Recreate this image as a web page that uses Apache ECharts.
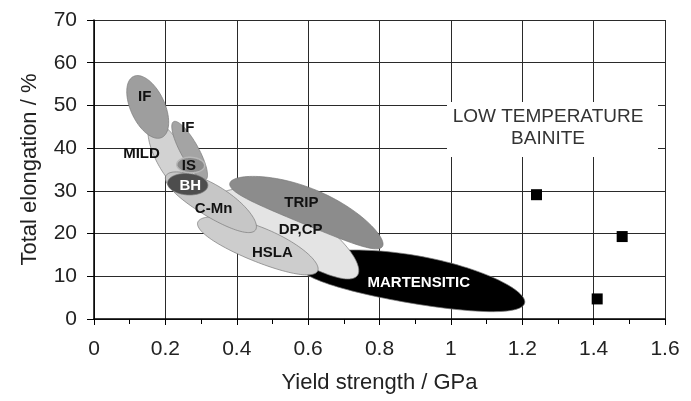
<!DOCTYPE html>
<html>
<head>
<meta charset="utf-8">
<script src="https://cdn.jsdelivr.net/npm/echarts@6/dist/echarts.min.js"></script>
<style>
  html, body { margin: 0; padding: 0; background: #fff; }
  #chart { width: 691px; height: 401px; }
</style>
</head>
<body>
<div id="chart"></div>
<script>
// steel grade regions: ends of the long axis [yield GPa, elongation %],
// half width and upward bow (both in % elongation)
let regionNames = ['MARTENSITIC', 'DP,CP', 'TRIP', 'HSLA', 'MILD', 'IF top', 'IF', 'C-Mn', 'BH', 'IS']
let regionStart = [[0.572, 12.9], [0.358, 29.1], [0.381, 31.9], [0.291, 22.7], [0.162, 46.0],
                   [0.111, 56.8], [0.223, 46.2], [0.202, 33.6], [0.206, 31.9], [0.232, 36.2]]
let regionEnd = [[1.207, 3.8], [0.739, 10.3], [0.809, 17.1], [0.627, 11.3], [0.270, 29.5],
                 [0.190, 42.5], [0.313, 32.6], [0.453, 20.9], [0.319, 31.2], [0.310, 35.9]]
let regionHalfWidth = [5.6, 5.4, 4.2, 4.0, 3.4, 4.0, 2.1, 3.7, 2.5, 1.8]
let regionBend = [1.0, 1.0, 1.9, 0.5, 0, 0, 0, 0.5, 0, 0]

// region labels
let labelNames = ['IF', 'IF', 'MILD', 'IS', 'BH', 'C-Mn', 'TRIP', 'DP,CP', 'HSLA', 'MARTENSITIC']
let labelPoints = [[0.142, 51.9], [0.263, 44.8], [0.133, 38.6], [0.266, 35.9], [0.270, 31.1],
                   [0.335, 25.9], [0.581, 27.2], [0.579, 20.9], [0.500, 15.6], [0.910, 8.5]]

// low temperature bainite
let bainiteYield = [1.24, 1.48, 1.41]
let bainiteElong = [29.1, 19.3, 4.7]

let xTicks = { min: 0, max: 1.6, step: 0.2 }
let yTicks = { min: 0, max: 70, step: 10 }

let fills = {
    'MARTENSITIC': '#000000', 'DP,CP': '#e4e4e4', 'TRIP': '#8c8c8c', 'HSLA': '#cdcdcd',
    'IF top': '#9e9e9e', 'MILD': '#d2d2d2', 'IF': '#a4a4a4', 'C-Mn': '#c6c6c6',
    'BH': '#4d4d4d', 'IS': '#8a8a8a'
}
let whiteLabels = ['BH', 'MARTENSITIC']

let font = '"Liberation Sans", Arial, sans-serif'

function ellipseItem(params, api) {
    let i = params.dataIndex
    let p1 = api.coord(regionStart[i])
    let p2 = api.coord(regionEnd[i])
    let cx = (p1[0] + p2[0]) / 2
    let cy = (p1[1] + p2[1]) / 2
    let a = Math.hypot(p2[0] - p1[0], p2[1] - p1[1]) / 2
    let b = api.size([0, regionHalfWidth[i]])[1]
    let bend = api.size([0, regionBend[i]])[1]
    let ang = Math.atan2(p2[1] - p1[1], p2[0] - p1[0])
    let pts = []
    for (let k = 0; k < 120; k++) {
        let t = k / 120 * Math.PI * 2
        let ex = a * Math.cos(t)
        let ey = b * Math.sin(t) - bend * Math.sin(t) * Math.sin(t)
        pts.push([cx + ex * Math.cos(ang) - ey * Math.sin(ang), cy + ex * Math.sin(ang) + ey * Math.cos(ang)])
    }
    let name = regionNames[i]
    return {
        type: 'polygon',
        shape: { points: pts },
        style: {
            fill: fills[name],
            stroke: name === 'IS' ? '#b8b8b8' : '#7a7a7a',
            lineWidth: name === 'IS' ? 1.5 : 0.7
        }
    }
}

function labelItem(params, api) {
    let i = params.dataIndex
    let p = api.coord(labelPoints[i])
    let n = labelNames[i]
    return {
        type: 'text',
        x: p[0], y: p[1],
        style: {
            text: n,
            fill: whiteLabels.includes(n) ? '#fff' : '#111',
            font: 'bold 15px ' + font,
            align: 'center', verticalAlign: 'middle'
        }
    }
}

let chart = echarts.init(document.getElementById('chart'))
chart.setOption({
    animation: false,
    grid: { left: 94, right: 26, top: 20, bottom: 82 },
    xAxis: {
        type: 'value', min: xTicks.min, max: xTicks.max, interval: xTicks.step,
        name: 'Yield strength / GPa', nameLocation: 'middle', nameGap: 53,
        nameTextStyle: { fontFamily: font, fontSize: 22, color: '#222' },
        axisLine: { show: true, onZero: false, lineStyle: { color: '#000', width: 1.5 } },
        axisTick: { show: true, length: 6, lineStyle: { color: '#000' } },
        minorTick: { show: true, splitNumber: 2, length: 5, lineStyle: { color: '#000' } },
        axisLabel: { fontFamily: font, fontSize: 21, color: '#222', margin: 20 },
        splitLine: { show: true, lineStyle: { color: '#2a2a2a', width: 1 } }
    },
    yAxis: {
        type: 'value', min: yTicks.min, max: yTicks.max, interval: yTicks.step,
        name: 'Total elongation / %', nameLocation: 'middle', nameGap: 53,
        nameTextStyle: { fontFamily: font, fontSize: 22, color: '#222' },
        axisLine: { show: true, onZero: false, lineStyle: { color: '#000', width: 1.5 } },
        axisTick: { show: true, length: 7, lineStyle: { color: '#000' } },
        axisLabel: { fontFamily: font, fontSize: 21, color: '#222', margin: 17 },
        splitLine: { show: true, lineStyle: { color: '#2a2a2a', width: 1 } }
    },
    graphic: [{
        type: 'rect', z: 5,
        shape: { x: 447, y: 102, width: 211, height: 55 },
        style: { fill: '#fff' }
    }, {
        type: 'text', z: 6, x: 548, y: 128,
        style: {
            text: 'LOW TEMPERATURE\nBAINITE', fill: '#333', font: '19px ' + font,
            align: 'center', verticalAlign: 'middle', lineHeight: 22
        }
    }],
    series: [{
        type: 'custom',
        renderItem: ellipseItem,
        data: regionNames.map((n, i) => i),
        z: 2,
        silent: true
    }, {
        type: 'custom',
        renderItem: labelItem,
        data: labelNames.map((n, i) => i),
        z: 3,
        silent: true
    }, {
        type: 'scatter',
        symbol: 'rect',
        symbolSize: 11,
        z: 4,
        itemStyle: { color: '#000', opacity: 1 },
        data: bainiteYield.map((x, i) => [x, bainiteElong[i]])
    }]
})
</script>
</body>
</html>
